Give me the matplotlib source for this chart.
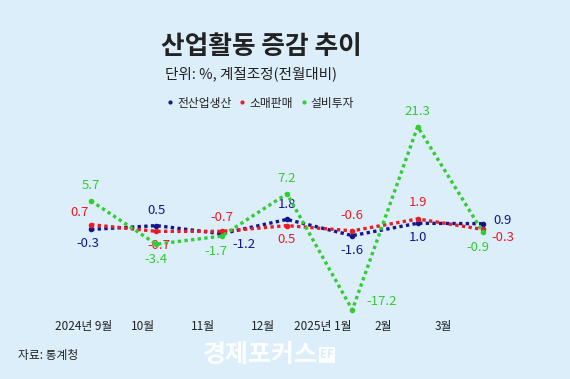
import matplotlib.pyplot as plt
from matplotlib.lines import Line2D

plt.rcParams['font.family'] = ['Noto Sans CJK KR', 'DejaVu Sans']

# -------------------------
# Data
# -------------------------
months = ["2024년 9월", "10월", "11월", "12월", "2025년 1월", "2월", "3월"]
production = [-0.3, 0.5, -1.2, 1.8, -1.6, 1.0, 0.9]    # 전산업생산
retail = [0.7, -0.7, -0.7, 0.5, -0.6, 1.9, -0.3]       # 소매판매
investment = [5.7, -3.4, -1.7, 7.2, -17.2, 21.3, -0.9]  # 설비투자
series_names = ["전산업생산", "소매판매", "설비투자"]

# -------------------------
# Style
# -------------------------
bg = "#dbeef9"
colors = ["#14148c", "#ea1c24", "#33cc33"]

# label offsets in points (dx, dy) per point
offs_prod = [(-2, -10), (0, 11), (16, -8), (0, 11), (0, -11), (0, -10), (14, 2)]
offs_retail = [(-8, 9), (2, -10), (0, 10), (0, -10), (0, 11), (0, 12), (14, -6)]
offs_invest = [(0, 11), (0, -11), (-4, -11), (0, 11), (21, 6), (0, 11), (-4, -11)]

fig = plt.figure(figsize=(5.7, 3.79), dpi=100, facecolor=bg)
ax = fig.add_axes([0, 64 / 379, 1, 200 / 379])
ax.set_facecolor(bg)

x = list(range(len(months)))
for vals, c, offs in [(production, colors[0], offs_prod),
                      (retail, colors[1], offs_retail),
                      (investment, colors[2], offs_invest)]:
    ax.plot(x, vals, color=c, linestyle=(0, (1, 1)), linewidth=2.4,
            marker='o', markersize=3, zorder=3)
    for xi, v, (dx, dy) in zip(x, vals, offs):
        ax.annotate(f"{v:.1f}", (xi, v), xytext=(dx, dy), textcoords='offset points',
                    ha='center', va='center', color=c, fontsize=9.5)

ax.set_xlim(-91 / 65.33, (570 - 91) / 65.33)
ax.set_ylim(-(315 - 228) / 4.76, (228 - 115) / 4.76)

# month labels sit on their own slightly narrower grid
ax.set_xticks([i * 0.918 - 0.12 for i in x])
ax.set_xticklabels(months, fontsize=8.5, color="#222222")
ax.tick_params(axis='x', length=0, pad=3.5)
ax.set_yticks([])
for s in ax.spines.values():
    s.set_visible(False)

# legend
handles = [Line2D([], [], color=c, marker='o', linestyle='', markersize=2) for c in colors]
fig.legend(handles, series_names, loc='center', bbox_to_anchor=(0.457, 1 - 103 / 379),
           ncol=3, frameon=False, fontsize=8.5, handlelength=0.6, handletextpad=0.3,
           columnspacing=0.6, labelcolor="#222222")

# titles
fig.text(0.458, 1 - 46 / 379, "산업활동 증감 추이", ha='center', va='center',
         fontsize=18.5, fontweight='bold', color="#222222")
fig.text(165 / 570, 1 - 74 / 379, "단위: %, 계절조정(전월대비)", ha='left', va='center',
         fontsize=10.5, color="#222222")
fig.text(18 / 570, 1 - 355 / 379, "자료: 통계청", ha='left', va='center',
         fontsize=8.5, color="#222222")
fig.text(260 / 570, 1 - 355 / 379, "경제포커스", ha='center', va='center',
         fontsize=18, fontweight='bold', color="white", alpha=0.9)
fig.text(327 / 570, 1 - 355 / 379, "EF", ha='center', va='center', fontsize=8,
         fontweight='bold', color=bg,
         bbox=dict(boxstyle='square,pad=0.15', fc='white', ec='none', alpha=0.9))

fig.savefig("out.png", dpi=100, facecolor=bg)
